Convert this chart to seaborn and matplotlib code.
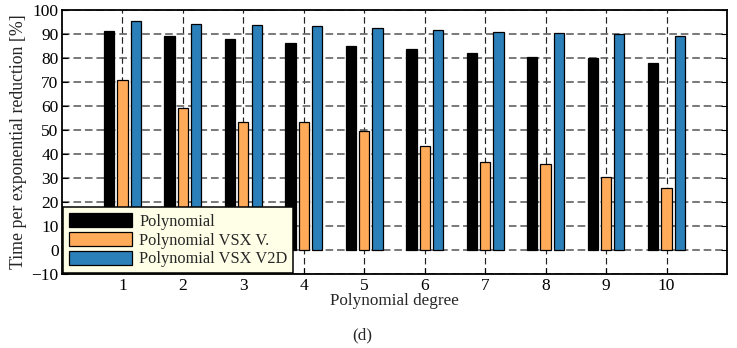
import numpy as np
import pandas as pd
import matplotlib
matplotlib.use("Agg")
import matplotlib.pyplot as plt
import seaborn as sns

degrees = [1, 2, 3, 4, 5, 6, 7, 8, 9, 10]
poly = [91.4, 89.3, 87.9, 86.4, 85.0, 83.7, 82.0, 80.4, 79.9, 77.9]
poly_vsx_v = [70.7, 59.0, 53.2, 53.2, 49.6, 43.5, 36.7, 35.8, 30.4, 25.7]
poly_vsx_v2d = [95.6, 94.0, 93.7, 93.2, 92.6, 91.7, 90.8, 90.5, 90.0, 89.3]
series_names = ["Polynomial", "Polynomial VSX V.", "Polynomial VSX V2D"]
colors = ["#000000", "#FFAB5A", "#2B80BA"]

df = pd.DataFrame({
    "degree": degrees * 3,
    "value": poly + poly_vsx_v + poly_vsx_v2d,
    "series": [series_names[0]] * 10 + [series_names[1]] * 10 + [series_names[2]] * 10,
})

sns.set_style("white")
plt.rcParams["font.family"] = ["Liberation Serif", "DejaVu Serif"]
plt.rcParams["axes.unicode_minus"] = True

fig = plt.figure(figsize=(7.37, 3.48), dpi=100)
ax = fig.add_axes([0.0841, 0.2126, 0.9023, 0.7587])

sns.barplot(data=df, x="degree", y="value", hue="series", hue_order=series_names,
            palette=colors, native_scale=True, width=0.66, gap=0.23,
            edgecolor="black", linewidth=0.9, saturation=1, ax=ax, zorder=3,
            errorbar=None)

ax.set_xlim(0, 11)
ax.set_ylim(-10, 100)
ax.set_xticks(degrees)
ax.set_xticklabels([str(d) for d in degrees])
ax.set_yticks(np.arange(-10, 101, 10))
ax.set_yticklabels(["\u221210"] + [str(v) for v in range(0, 101, 10)])
ax.tick_params(direction="in", length=4, width=0.8, labelsize=12.5, colors="black",
               top=False, right=True, left=True, bottom=True)
ax.tick_params(axis="x", pad=3)
ax.tick_params(axis="y", pad=2.5)
ax.set_axisbelow(True)
ax.grid(True, axis="y", linestyle=(0, (5, 2.5)), color="#555555", linewidth=1.1, zorder=0)
ax.grid(True, axis="x", linestyle=(0, (5.5, 3)), color="#222222", linewidth=0.85, zorder=0)
for s in ax.spines.values():
    s.set_linewidth(1.3)
    s.set_color("black")

ax.set_xlabel("Polynomial degree", fontsize=12.3, labelpad=-1)
ax.set_ylabel("Time per exponential reduction [%]", fontsize=12.8, labelpad=3)

leg = ax.legend(loc="lower left", bbox_to_anchor=(0.0, 0.0), fontsize=11.8,
                frameon=True, fancybox=False, framealpha=1, facecolor="#FFFFE8",
                edgecolor="black", handlelength=3.9, handleheight=1.0,
                borderpad=0.35, labelspacing=0.12, handletextpad=0.4,
                borderaxespad=0.05)
leg.get_frame().set_linewidth(1.1)
leg.set_zorder(10)

fig.text(0.491, 0.037, "(d)", ha="center", va="center", fontsize=12.3)

fig.savefig("out.png", dpi=100)
